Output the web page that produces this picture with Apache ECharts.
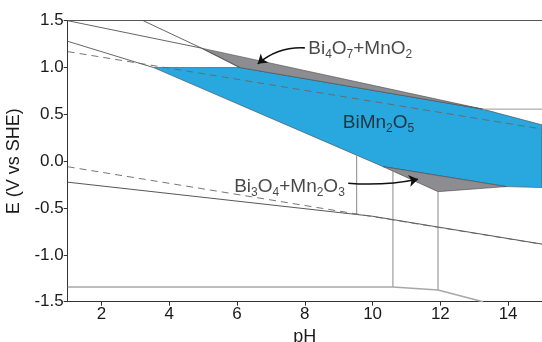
<!DOCTYPE html>
<html><head><meta charset="utf-8">
<script src="https://cdn.jsdelivr.net/npm/echarts@6/dist/echarts.min.js"></script>
<style>html,body{margin:0;padding:0;background:#fff}#c{width:542px;height:342px}</style>
</head><body><div id="c"></div><script>
// ---- axes ----
const pHMin = 1, pHMax = 15;
const eMin = -1.5, eMax = 1.5;
const xTickValues = [2, 4, 6, 8, 10, 12, 14];

// ---- stability regions (pH, E) ----
const regionBiMn2O5 = [[3.53, 1.0], [6.08, 1.0], [13.25, 0.556], [15, 0.388], [15, -0.282], [13.95, -0.271], [10.31, -0.058]];
const regionBi4O7MnO2 = [[4.95, 1.207], [6.08, 1.0], [13.25, 0.556]];
const regionBi3O4Mn2O3 = [[10.31, -0.058], [11.93, -0.325], [13.95, -0.271]];

// ---- boundary lines ----
const lineTopLeft = [[1, 1.5], [4.95, 1.207]];
const lineSteep = [[3.23, 1.5], [4.95, 1.207], [6.08, 1.0]];
const lineUpperLeft = [[1, 1.28], [3.53, 1.0]];
const lineRightFlat = [[13.25, 0.556], [15, 0.556]];
const lineLower = [[1, -0.224], [10.0, -0.588], [15, -0.885]];
const lineVert1 = [[9.53, 0.064], [9.53, -0.569]];
const lineVert2 = [[10.6, -0.106], [10.6, -1.343]];
const lineVert3 = [[11.93, -0.325], [11.93, -1.375]];
const lineBottom = [[1, -1.343], [10.6, -1.343], [11.93, -1.375], [13.26, -1.5]];
const waterO2 = [[1, 1.170], [15, 0.343]];
const waterH2 = [[1, -0.059], [15, -0.887]];

// ---- annotations ----
const labelBi4O7 = { pos: [8.1, 1.2], text: '{m|Bi}{s|4}{m|O}{s|7}{m|+MnO}{s|2}' };
const labelBiMn2O5 = { pos: [9.12, 0.412], text: '{m|BiMn}{s|2}{m|O}{s|5}' };
const labelBi3O4 = { pos: [9.18, -0.268], text: '{m|Bi}{s|3}{m|O}{s|4}{m|+Mn}{s|2}{m|O}{s|3}' };
const arrowBi4O7 = [[8.0, 1.21], [6.61, 1.04]];
const arrowBi3O4 = [[9.28, -0.235], [11.34, -0.192]];

const FONT = '"Liberation Sans", Arial, Helvetica, sans-serif';
const BLUE = '#29a8df';
const GREY = '#8d8d91';

function polygon(points, color, z) {
  return {
    type: 'custom', coordinateSystem: 'cartesian2d', silent: true, z: z,
    data: points,
    renderItem: function (params, api) {
      if (params.dataIndex !== 0) return null;
      return {
        type: 'polygon',
        shape: { points: points.map(function (p) { return api.coord(p); }) },
        style: { fill: color, stroke: '#4a4a4a', lineWidth: 0.6 }
      };
    }
  };
}
function line(points, color, width, type, z) {
  return {
    type: 'line', data: points, showSymbol: false, silent: true, z: z || 5,
    lineStyle: { color: color, width: width, type: type || 'solid' }
  };
}
const rich = {
  m: { fontSize: 19, fontFamily: FONT, color: '#1a1a1a', lineHeight: 24 },
  s: { fontSize: 12, fontFamily: FONT, color: '#1a1a1a', lineHeight: 14, verticalAlign: 'bottom' }
};
function label(l, side) {
  return {
    type: 'scatter', data: [l.pos], symbolSize: 0, silent: true, z: 10,
    label: { show: true, position: side, distance: 0, formatter: l.text, rich: rich }
  };
}
function arrow(coords, curv) {
  return {
    type: 'lines', coordinateSystem: 'cartesian2d', silent: true, z: 9,
    symbol: ['none', 'arrow'], symbolSize: 9,
    data: [{ coords: coords }],
    lineStyle: { color: '#111', width: 1.6, curveness: curv, opacity: 1 }
  };
}

const chart = echarts.init(document.getElementById('c'), null, { renderer: 'canvas' });
chart.setOption({
  animation: false,
  textStyle: { fontFamily: FONT },
  grid: { left: 67.7, right: 0, top: 20.7, bottom: 40.3, containLabel: false, outerBoundsMode: 'none' },
  xAxis: [{
    type: 'value', min: pHMin, max: pHMax, position: 'bottom',
    name: 'pH', nameLocation: 'middle', nameGap: 23,
    nameTextStyle: { fontSize: 18, color: '#1a1a1a', fontFamily: FONT },
    axisLine: { show: true, onZero: false, lineStyle: { color: '#333', width: 1 } },
    axisTick: { show: true, length: 4, customValues: xTickValues, lineStyle: { color: '#333' } },
    axisLabel: { customValues: xTickValues, fontSize: 17, color: '#1a1a1a', margin: 4, fontFamily: FONT },
    splitLine: { show: false }
  }, {
    type: 'value', position: 'top', min: pHMin, max: pHMax,
    axisLine: { show: true, onZero: false, lineStyle: { color: '#555', width: 1 } },
    axisTick: { show: false }, axisLabel: { show: false }, splitLine: { show: false }
  }],
  yAxis: {
    type: 'value', min: eMin, max: eMax, interval: 0.5,
    name: 'E (V vs SHE)', nameLocation: 'middle', nameGap: 38,
    nameTextStyle: { fontSize: 18, color: '#1a1a1a', fontFamily: FONT },
    axisLine: { show: true, onZero: false, lineStyle: { color: '#333', width: 1 } },
    axisTick: { show: true, length: 4, lineStyle: { color: '#333' } },
    axisLabel: { fontSize: 17, color: '#1a1a1a', margin: 4, fontFamily: FONT,
      formatter: function (v) { return v.toFixed(1); } },
    splitLine: { show: false }
  },
  series: [
    polygon(regionBiMn2O5, BLUE, 1),
    polygon(regionBi4O7MnO2, GREY, 2),
    polygon(regionBi3O4Mn2O3, GREY, 2),
    line(lineTopLeft, '#555', 0.9),
    line(lineSteep, '#555', 0.9),
    line(lineUpperLeft, '#555', 0.9),
    line(lineRightFlat, '#999', 1),
    line(lineLower, '#444', 0.9),
    line(lineVert1, '#8a8a8a', 1),
    line(lineVert2, '#8a8a8a', 1),
    line(lineVert3, '#8a8a8a', 1),
    line(lineBottom, '#a8a8a8', 1.6),
    line(waterO2, '#666', 0.9, [7, 5]),
    line(waterH2, '#666', 0.9, [7, 5]),
    label(labelBi4O7, 'right'),
    label(labelBiMn2O5, 'right'),
    label(labelBi3O4, 'left'),
    arrow(arrowBi4O7, -0.2),
    arrow(arrowBi3O4, -0.07)
  ]
});
</script></body></html>
